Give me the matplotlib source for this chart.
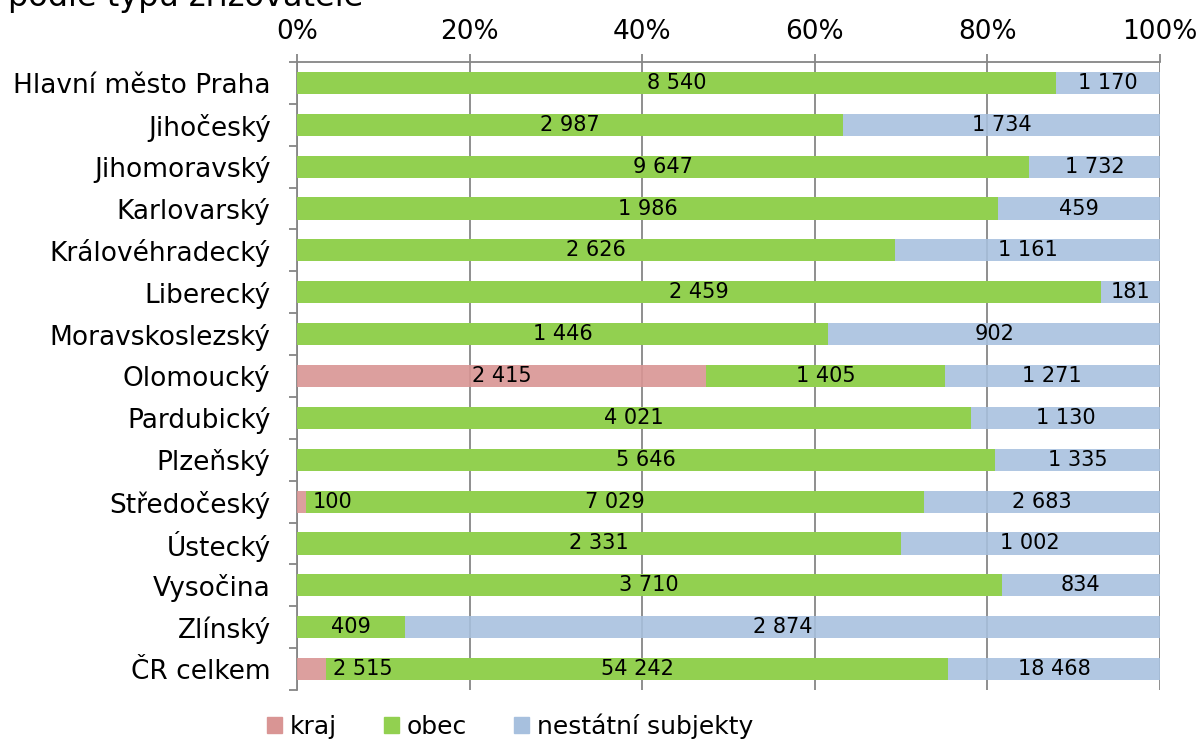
import numpy as np
import matplotlib.pyplot as plt
from matplotlib.patches import Patch
from matplotlib.ticker import FixedLocator, PercentFormatter

kraje = ['Hlavní město Praha', 'Jihočeský', 'Jihomoravský', 'Karlovarský',
         'Královéhradecký', 'Liberecký', 'Moravskoslezský', 'Olomoucký',
         'Pardubický', 'Plzeňský', 'Středočeský', 'Ústecký', 'Vysočina',
         'Zlínský', 'ČR celkem']
kraj = [0, 0, 0, 0, 0, 0, 0, 2415, 0, 0, 100, 0, 0, 0, 2515]
obec = [8540, 2987, 9647, 1986, 2626, 2459, 1446, 1405, 4021, 5646, 7029,
        2331, 3710, 409, 54242]
nestatni = [1170, 1734, 1732, 459, 1161, 181, 902, 1271, 1130, 1335, 2683,
            1002, 834, 2874, 18468]

barvy = {'kraj': '#d99594', 'obec': '#92d050', 'nestatni': '#a7c0de'}
sivá = '#868686'


def cislo(n):
    return '{:,}'.format(n).replace(',', ' ')


kr = np.array(kraj, dtype=float)
ob = np.array(obec, dtype=float)
ne = np.array(nestatni, dtype=float)
celkem = kr + ob + ne
p_kr = kr / celkem
p_ob = ob / celkem
p_ne = ne / celkem

fig = plt.figure(figsize=(12.03, 7.40), dpi=100)
ax = fig.add_axes([297 / 1203, 1 - 690 / 740, 863 / 1203, 628 / 740])

y = np.arange(len(kraje))
h = 0.53
ax.barh(y, p_kr, height=h, color=barvy['kraj'], alpha=0.9, zorder=3)
ax.barh(y, p_ob, left=p_kr, height=h, color=barvy['obec'], zorder=3)
ax.barh(y, p_ne, left=p_kr + p_ob, height=h, color=barvy['nestatni'],
        alpha=0.88, zorder=3)

# popisky hodnot, malé hodnoty kraje stojí až za úsekem
for i in range(len(kraje)):
    if kr[i] > 0:
        if p_kr[i] > 0.1:
            ax.text(p_kr[i] / 2, y[i], cislo(kraj[i]), ha='center',
                    va='center', fontsize=15, zorder=5)
        else:
            ax.text(p_kr[i] + 0.008, y[i], cislo(kraj[i]), ha='left',
                    va='center', fontsize=15, zorder=5)
    ax.text(p_kr[i] + p_ob[i] / 2, y[i], cislo(obec[i]), ha='center',
            va='center', fontsize=15, zorder=5)
    ax.text(p_kr[i] + p_ob[i] + p_ne[i] / 2, y[i], cislo(nestatni[i]),
            ha='center', va='center', fontsize=15, zorder=5)

ax.set_xlim(0, 1)
ax.set_ylim(len(kraje) - 0.5, -0.5)

ax.xaxis.tick_top()
ax.set_xticks(np.arange(0, 1.01, 0.2))
ax.xaxis.set_major_formatter(PercentFormatter(1.0, decimals=0))
ax.tick_params(axis='x', which='major', length=6, width=1.3, color=sivá,
               labelsize=19, pad=6)

ax.set_yticks(y)
ax.set_yticklabels(kraje)
ax.yaxis.set_minor_locator(FixedLocator(np.arange(-0.5, len(kraje), 1)))
ax.tick_params(axis='y', which='major', length=0, labelsize=19, pad=19)
ax.tick_params(axis='y', which='minor', length=6, width=1.3, color=sivá)

ax.grid(axis='x', color=sivá, linewidth=1.3, zorder=0)
ax.set_axisbelow(True)
for s in ['bottom', 'right']:
    ax.spines[s].set_visible(False)
for s in ['left', 'top']:
    ax.spines[s].set_color(sivá)
    ax.spines[s].set_linewidth(1.3)

fig.text(8 / 1203, 1 - 6 / 740, 'podle typu zřizovatele', ha='left',
         va='baseline', fontsize=23)

handles = [Patch(color=barvy['kraj']), Patch(color=barvy['obec']),
           Patch(color=barvy['nestatni'])]
fig.legend(handles, ['kraj', 'obec', 'nestátní subjekty'],
           loc='center left', bbox_to_anchor=(267 / 1203, 1 - 726 / 740),
           ncol=3, frameon=False, fontsize=18, handlelength=0.6,
           handleheight=0.6, handletextpad=0.3, columnspacing=1.9,
           borderpad=0, borderaxespad=0)

fig.savefig('out.png', dpi=100)
